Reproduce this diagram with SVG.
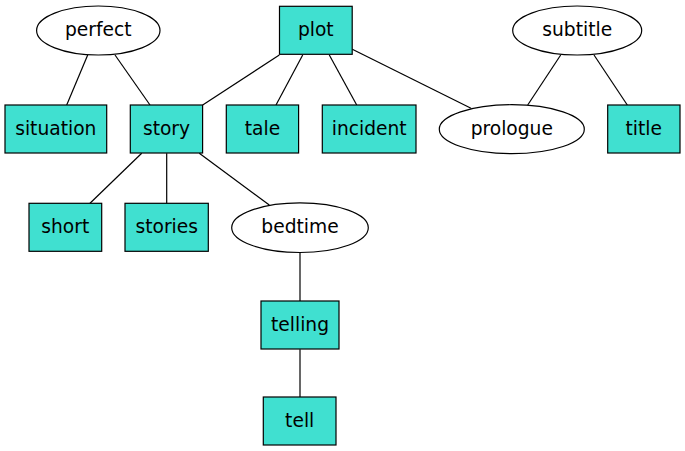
<svg xmlns="http://www.w3.org/2000/svg" width="685" height="451" viewBox="0 0 685 451">
<style>
.box{fill:#40e0d0;stroke:#000;stroke-width:1.2}
.ell{fill:#fff;stroke:#000;stroke-width:1.2}
.lbl{font-family:"DejaVu Sans",sans-serif;font-size:18.67px;text-anchor:middle;fill:#000}
#edges line{stroke:#000;stroke-width:1.2}
</style>
<rect width="685" height="451" fill="#fff"/>
<g id="edges">
<line x1="87.7" y1="55" x2="66.7" y2="105"/>
<line x1="115" y1="55" x2="150" y2="105"/>
<line x1="279.3" y1="55" x2="202.7" y2="105"/>
<line x1="302.7" y1="55" x2="276" y2="105"/>
<line x1="329.3" y1="55" x2="356.7" y2="105"/>
<line x1="352.3" y1="49.3" x2="471" y2="108.3"/>
<line x1="560.7" y1="55" x2="527.7" y2="105"/>
<line x1="594" y1="55" x2="627.3" y2="105"/>
<line x1="141.7" y1="153.3" x2="90" y2="203.3"/>
<line x1="166.7" y1="153.3" x2="166.7" y2="203.3"/>
<line x1="199.3" y1="153.3" x2="269.3" y2="205"/>
<line x1="300" y1="252.7" x2="300" y2="301"/>
<line x1="300" y1="349.3" x2="300" y2="397"/>
</g>
<g id="perfect"><ellipse class="ell" cx="98.3" cy="30.5" rx="61.7" ry="24.5"/><text class="lbl" x="98.3" y="36">perfect</text></g>
<g id="plot"><rect class="box" x="279.5" y="6.3" width="72.7" height="48"/><text class="lbl" x="315.8" y="36">plot</text></g>
<g id="subtitle"><ellipse class="ell" cx="577.2" cy="30.5" rx="64.5" ry="24.5"/><text class="lbl" x="577.2" y="36">subtitle</text></g>
<g id="situation"><rect class="box" x="5" y="105" width="101.7" height="48"/><text class="lbl" x="55.8" y="134.6">situation</text></g>
<g id="story"><rect class="box" x="130.3" y="105" width="72.3" height="48"/><text class="lbl" x="166.5" y="134.6">story</text></g>
<g id="tale"><rect class="box" x="226.3" y="105" width="72.3" height="48"/><text class="lbl" x="262.5" y="134.6">tale</text></g>
<g id="incident"><rect class="box" x="322.3" y="105" width="93.7" height="48"/><text class="lbl" x="369.2" y="134.6">incident</text></g>
<g id="prologue"><ellipse class="ell" cx="511.8" cy="129.2" rx="72.5" ry="24.5"/><text class="lbl" x="511.8" y="134.6">prologue</text></g>
<g id="title"><rect class="box" x="607.7" y="105" width="72.3" height="48"/><text class="lbl" x="643.8" y="134.6">title</text></g>
<g id="short"><rect class="box" x="29" y="203.3" width="72.7" height="48"/><text class="lbl" x="65.3" y="233">short</text></g>
<g id="stories"><rect class="box" x="125" y="203.3" width="83.3" height="48"/><text class="lbl" x="166.7" y="233">stories</text></g>
<g id="bedtime"><ellipse class="ell" cx="300" cy="227.7" rx="68.3" ry="24.8"/><text class="lbl" x="300" y="233">bedtime</text></g>
<g id="telling"><rect class="box" x="261" y="301" width="78" height="48"/><text class="lbl" x="300" y="330.6">telling</text></g>
<g id="tell"><rect class="box" x="263.3" y="397" width="72.7" height="48"/><text class="lbl" x="299.7" y="426.6">tell</text></g>
</svg>
